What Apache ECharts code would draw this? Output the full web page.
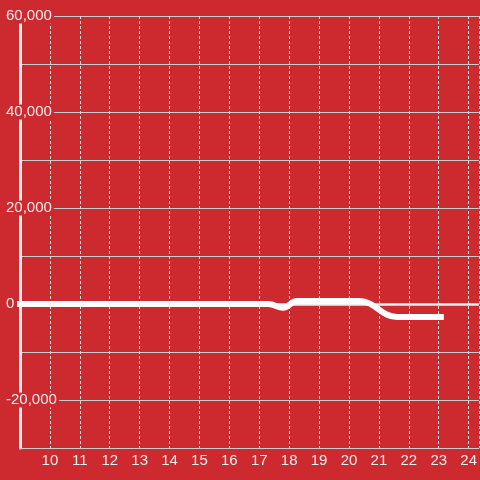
<!DOCTYPE html>
<html>
<head>
<meta charset="utf-8">
<script src="https://cdn.jsdelivr.net/npm/echarts@6/dist/echarts.min.js"></script>
<style>
  html, body { margin: 0; padding: 0; background: #cc2a2f; }
  #chart { width: 480px; height: 480px; }
</style>
</head>
<body>
<div id="chart"></div>
<script>
// values
const xValues = [9, 17.3, 17.8, 18.25, 20.35, 21.6, 23.07]
const yValues = [0, 0, -800, 600, 600, -2700, -2700]
const baseline = 0

const bg = '#cc2a2f'

const chart = echarts.init(document.getElementById('chart'))

const option = {
    backgroundColor: bg,
    animation: false,
    grid: {
        left: 20,
        right: 0,
        top: 16,
        bottom: 32,
    },
    xAxis: {
        type: 'value',
        min: 9,
        max: 24.34,
        interval: 1,
        axisLine: {
            onZero: false,
            lineStyle: { color: '#ccc', width: 1 },
        },
        axisTick: { show: false },
        axisLabel: {
            showMinLabel: false,
            showMaxLabel: false,
            color: '#eee',
            fontSize: 15,
            fontFamily: 'Liberation Sans',
            margin: 5,
        },
        splitLine: {
            show: true,
            lineStyle: { color: '#ddd', width: 1, type: [3, 2] },
        },
    },
    yAxis: {
        type: 'value',
        min: -30000,
        max: 60000,
        interval: 10000,
        axisLine: {
            show: true,
            lineStyle: { color: '#eee', width: 3 },
        },
        axisTick: { show: false },
        axisLabel: {
            align: 'left',
            margin: 15,
            formatter: (value) => {
                if (value % 20000 !== 0) {
                    return ''
                }
                return '{b|' + value.toLocaleString('en-US') + '}'
            },
            rich: {
                b: {
                    color: '#eee',
                    fontSize: 15,
                    fontFamily: 'Liberation Sans',
                    backgroundColor: bg,
                    padding: [0, 2, 0, 1],
                },
            },
        },
        splitLine: {
            show: true,
            lineStyle: { color: '#ccc', width: 1 },
        },
    },
    series: [
        {
            type: 'line',
            data: xValues.map((x, i) => [x, yValues[i]]),
            smooth: 0.4,
            showSymbol: false,
            z: 3,
            lineStyle: {
                color: '#fff',
                width: 6,
                cap: 'square',
            },
            markLine: {
                silent: true,
                symbol: 'none',
                z: 1,
                label: { show: false },
                lineStyle: { color: '#eee', width: 2.5, type: 'solid' },
                data: [{ yAxis: baseline }],
            },
        },
    ],
}

chart.setOption(option)
</script>
</body>
</html>
